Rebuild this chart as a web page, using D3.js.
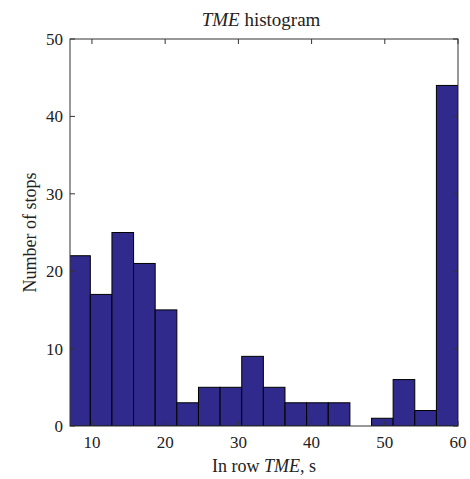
<!DOCTYPE html>
<html><head><meta charset="utf-8">
<script src="https://cdn.jsdelivr.net/npm/d3@7"></script>
<style>body{margin:0;background:#fff}text{font-family:"Liberation Serif","Times New Roman",serif;fill:#222}</style>
</head><body><svg id="c" width="470" height="479"></svg>
<script>
const binStarts = [6.82,9.77,12.73,15.68,18.64,21.59,24.55,27.50,30.46,33.41,36.37,39.32,42.28,45.23,48.19,51.14,54.10,57.05];
const binWidth = 2.955;
const counts = [22,17,25,21,15,3,5,5,9,5,3,3,3,0,1,6,2,44];
const xTicks = [10,20,30,40,50,60];
const yTicks = [0,10,20,30,40,50];

const svg = d3.select("#c");
const L=70,R=458,T=39,B=426;
const x = d3.scaleLinear().domain([7,60]).range([L,R]);
const y = d3.scaleLinear().domain([0,50]).range([B,T]);

svg.append("defs").append("clipPath").attr("id","clip").append("rect")
  .attr("x",L).attr("y",T).attr("width",R-L).attr("height",B-T);

const data = counts.map((c,i)=>({c, x0: binStarts[i]})).filter(d=>d.c>0);
svg.append("g").attr("clip-path","url(#clip)").selectAll("rect").data(data).join("rect")
  .attr("x",d=>x(d.x0))
  .attr("y",d=>y(d.c))
  .attr("width",d=>x(d.x0+binWidth)-x(d.x0))
  .attr("height",d=>y(0)-y(d.c))
  .attr("fill","#2f2a8c").attr("stroke","#000").attr("stroke-width",1);

svg.append("rect").attr("x",L).attr("y",T).attr("width",R-L).attr("height",B-T)
  .attr("fill","none").attr("stroke","#333").attr("stroke-width",1);

const tl=5;
const ax = svg.append("g");
xTicks.forEach(t=>{
  ax.append("line").attr("x1",x(t)).attr("x2",x(t)).attr("y1",B).attr("y2",B-tl).attr("stroke","#333");
  ax.append("line").attr("x1",x(t)).attr("x2",x(t)).attr("y1",T).attr("y2",T+tl).attr("stroke","#333");
  ax.append("text").attr("x",x(t)).attr("y",B+22).attr("text-anchor","middle").attr("font-size",17).text(t);
});
yTicks.forEach(t=>{
  ax.append("line").attr("x1",L).attr("x2",L+tl).attr("y1",y(t)).attr("y2",y(t)).attr("stroke","#333");
  ax.append("line").attr("x1",R).attr("x2",R-tl).attr("y1",y(t)).attr("y2",y(t)).attr("stroke","#333");
  ax.append("text").attr("x",L-7).attr("y",y(t)+6).attr("text-anchor","end").attr("font-size",17).text(t);
});

const title = svg.append("text").attr("x",(L+R)/2-3).attr("y",26).attr("text-anchor","middle").attr("font-size",19);
title.append("tspan").attr("font-style","italic").text("TME");
title.append("tspan").text(" histogram");

const xl = svg.append("text").attr("x",(L+R)/2).attr("y",472).attr("text-anchor","middle").attr("font-size",18);
xl.append("tspan").text("In row ");
xl.append("tspan").attr("font-style","italic").text("TME");
xl.append("tspan").text(", s");

svg.append("text").attr("transform",`translate(36,${(T+B)/2}) rotate(-90)`).attr("text-anchor","middle")
  .attr("font-size",18).text("Number of stops");
</script></body></html>
